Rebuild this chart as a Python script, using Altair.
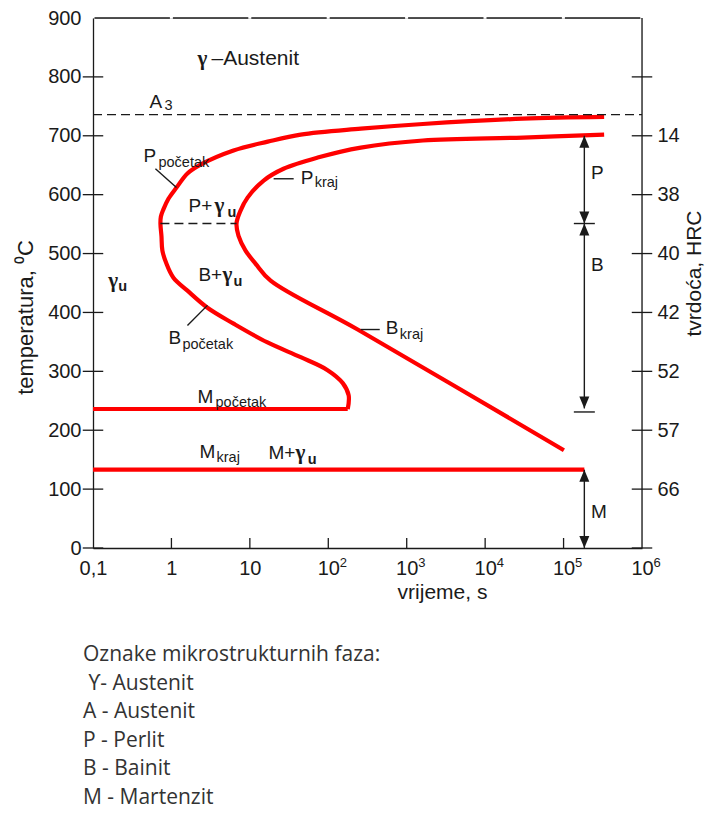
import altair as alt
import pandas as pd

# ---------------- data ----------------
# start curve (P_pocetak / B_pocetak), ordered from the right end round the nose
start_t = [3.29e5, 3.04e4, 1607, 260, 44.5, 16.9, 6.19, 2.35, 1.60, 1.16, 0.916, 0.79, 0.734, 0.724,
           0.746, 0.767, 0.863, 1.06, 1.60, 2.88, 6.2, 16.8, 44.5, 98, 153, 182, 177]
start_T = [732, 729, 720, 712, 702, 690, 675, 651, 636, 612, 593, 575, 563, 551,
           530, 505, 483, 459, 437, 408, 381, 349, 324, 302, 280, 259, 236]
# finish curve (P_kraj / B_kraj)
finish_t = [3.29e5, 3.04e4, 1607, 260, 73.3, 26.9, 15.0, 9.35, 7.61, 6.76, 7.17, 8.81, 11.8, 18.4, 237, 1.01e5]
finish_T = [702, 697, 692, 680, 663, 644, 624, 595, 573, 551, 530, 505, 483, 454, 371, 166]
# martensite start / finish lines
ms_t = [0.1, 177]
ms_T = [236, 236]
mf_t = [0.1, 1.84e5]
mf_T = [133, 133]

# dashed lines: A3 and the nose line
dash_t1 = [0.1, 0.724]
dash_t2 = [1e6, 6.76]
dash_T = [736, 551]

# arrows on the right (time position and temperature ends)
arrow_t = 1.84e5
shaft_T1 = [700, 551, 133]
shaft_T2 = [551, 237, 0]
head_up_T = [700, 551, 133]
head_down_T = [551, 237, 0]
bar_T = [551, 231]

# leader lines
lead_t1 = [0.625, 20.1, 1.6, 259]
lead_t2 = [1.16, 36.2, 2.88, 453]
lead_T1 = [644, 627, 378, 371]
lead_T2 = [612, 627, 412, 371]

# labels
big_text = ["\u2013Austenit"]
big_t = [3.24]
big_T = [830]

lbl_text = ["A", "P", "P", "P+", "B+", "B", "B", "M", "M", "M+", "P", "B", "M"]
lbl_t = [0.524, 0.439, 44.5, 1.65, 2.21, 0.916, 541, 2.15, 2.28, 17.3, 2.24e5, 2.24e5, 2.24e5]
lbl_T = [758, 666, 629, 580, 463, 356, 373, 256, 163, 161, 637, 480, 61]

greek_text = ["\u03b3", "\u03b3", "\u03b3", "\u03b3", "\u03b3"]
greek_t = [2.15, 3.54, 4.48, 0.157, 38.3]
greek_T = [830, 580, 463, 453, 161]

sub_text = ["3", "po\u010detak", "kraj", "po\u010detak", "kraj", "po\u010detak", "kraj"]
sub_t = [0.815, 0.683, 67.0, 1.38, 817, 3.65, 3.76]
sub_T = [751, 654, 619, 344, 361, 246, 153]

subb_text = ["u", "u", "u", "u"]
subb_t = [5.19, 6.2, 0.210, 54.6]
subb_T = [569, 451, 444, 149]

x_ticks = [0.1, 1, 10, 100, 1e3, 1e4, 1e5, 1e6]
x_tick_labels = ["0,1", "1", "10", "10", "10", "10", "10", "10"]
exp_t = [100, 1e3, 1e4, 1e5, 1e6]
exp_text = ["2", "3", "4", "5", "6"]
y_ticks = [0, 100, 200, 300, 400, 500, 600, 700, 800, 900]
hrc_T = [100, 200, 300, 400, 500, 600, 700]
hrc_labels = ["66", "57", "52", "42", "40", "38", "14"]
side_tick_T = [0, 100, 200, 300, 400, 500, 600, 700, 800]
bottom_tick_t = [1, 10, 100, 1e3, 1e4, 1e5]

legend_lines = ["Oznake mikrostrukturnih faza:", "\u200b\u00a0\u03d2- Austenit", "A - Austenit",
                "P - Perlit", "B - Bainit", "M - Martenzit"]

# ---------------- build ----------------
FONT = "Liberation Sans"
SERIF = "Liberation Serif"
INK = "#1a1a1a"
RED = "#ff0000"

xscale = alt.Scale(type="log", domain=[0.1, 1e6], nice=False)
yscale = alt.Scale(domain=[0, 900], nice=False, zero=False)

lab_arr = "[" + ",".join("'" + s + "'" for s in x_tick_labels) + "]"
xaxis = alt.Axis(values=x_ticks, labelExpr=lab_arr + "[round(log(datum.value)/LN10)+1]",
                 ticks=False, tickSize=0, grid=False, domain=True, domainColor=INK, domainWidth=1.3,
                 labelFont=FONT, labelFontSize=20, labelColor=INK, labelPadding=10,
                 labelFlush=False, labelOverlap=False,
                 title="vrijeme, s", titleFont=FONT, titleFontSize=21, titleFontWeight="normal",
                 titleColor=INK, titleX=349, titleY=44, titleAlign="center", titleBaseline="middle")
yaxis_left = alt.Axis(values=y_ticks, format="d", ticks=False, tickSize=0, grid=False, domain=True,
                      domainColor=INK, domainWidth=1.3, labelFont=FONT, labelFontSize=20, labelColor=INK,
                      labelPadding=12, labelFlush=False, labelOverlap=False,
                      title="temperatura, \u2070C", titleFont=FONT, titleFontSize=22,
                      titleFontWeight="normal", titleColor=INK, titleAngle=270, titleX=-68, titleY=299,
                      titleAlign="center", titleBaseline="middle")
hrc_arr = "['','" + "','".join(hrc_labels) + "']"
yaxis_right = alt.Axis(orient="right", values=hrc_T, labelExpr=hrc_arr + "[round(datum.value/100)]",
                       ticks=False, tickSize=0, grid=False, domain=False, labelFont=FONT, labelFontSize=20,
                       labelColor=INK, labelPadding=15, labelFlush=False, labelOverlap=False,
                       title="tvrdo\u0107a, HRC", titleFont=FONT, titleFontSize=21,
                       titleFontWeight="normal", titleColor=INK, titleAngle=270, titleX=52, titleY=255,
                       titleAlign="center", titleBaseline="middle")

X = alt.X("t:Q", scale=xscale, axis=xaxis)
X2 = alt.X2("t2:Q")
Ynone = alt.Y("T:Q", scale=yscale, axis=None)
Y2 = alt.Y2("T2:Q")

rows = []
for name, ts, Ts in [("start", start_t, start_T), ("finish", finish_t, finish_T),
                     ("ms", ms_t, ms_T), ("mf", mf_t, mf_T)]:
    for i, (a, b) in enumerate(zip(ts, Ts)):
        rows.append({"curve": name, "o": i, "t": a, "T": b})
curves_df = pd.DataFrame(rows)

curves = alt.Chart(curves_df).mark_line(color=RED, strokeWidth=4.2, interpolate="catmull-rom",
                                        strokeCap="butt", strokeJoin="round").encode(
    x=X, y=alt.Y("T:Q", scale=yscale, axis=yaxis_left), detail="curve:N", order="o:Q")

dash_df = pd.DataFrame({"t": dash_t1, "t2": dash_t2, "T": dash_T})
dashed = alt.Chart(dash_df).mark_rule(color=INK, strokeWidth=1.4, strokeDash=[9, 5]).encode(
    x=X, x2=X2, y=Ynone)

top_df = pd.DataFrame({"t": [0.1], "t2": [1e6], "T": [900]})
top_line = alt.Chart(top_df).mark_rule(color=INK, strokeWidth=1.3, strokeDash=[75.4, 3],
                                       strokeDashOffset=76.9).encode(x=X, x2=X2, y=Ynone)

right_df = pd.DataFrame({"t": [1e6], "T": [0], "T2": [900]})
right_line = alt.Chart(right_df).mark_rule(color=INK, strokeWidth=1.3).encode(
    x=X, y=alt.Y("T:Q", scale=yscale, axis=yaxis_right), y2=Y2)

lt_df = pd.DataFrame({"t": [0.1] * len(side_tick_T) + [1e6] * len(side_tick_T),
                      "T": side_tick_T + side_tick_T})
side_ticks = alt.Chart(lt_df).mark_point(shape="stroke", size=420, color=INK, strokeWidth=1.3,
                                         filled=False, opacity=1).encode(x=X, y=Ynone)
bt_df = pd.DataFrame({"t": bottom_tick_t, "T": [0] * len(bottom_tick_t)})
bottom_ticks = alt.Chart(bt_df).mark_point(shape="M0,0L0,-2", size=100, color=INK, strokeWidth=1.3,
                                           filled=False, opacity=1).encode(x=X, y=Ynone)

exp_df = pd.DataFrame({"t": exp_t, "T": [0] * len(exp_t), "s": exp_text})
exps = alt.Chart(exp_df).mark_text(align="left", baseline="top", font=FONT, fontSize=13, color=INK,
                                   dx=11.5, dy=9).encode(x=X, y=Ynone, text="s:N")

shaft_df = pd.DataFrame({"t": [arrow_t] * 3, "T": shaft_T1, "T2": shaft_T2})
shafts = alt.Chart(shaft_df).mark_rule(color=INK, strokeWidth=1.4).encode(x=X, y=Ynone, y2=Y2)
up_df = pd.DataFrame({"t": [arrow_t] * 3, "T": head_up_T})
heads_up = alt.Chart(up_df).mark_point(shape="M0,0L-1,2.4L1,2.4Z", size=100, color=INK,
                                       filled=True, opacity=1).encode(x=X, y=Ynone)
dn_df = pd.DataFrame({"t": [arrow_t] * 3, "T": head_down_T})
heads_dn = alt.Chart(dn_df).mark_point(shape="M0,0L-1,-2.4L1,-2.4Z", size=100, color=INK,
                                       filled=True, opacity=1).encode(x=X, y=Ynone)
bar_df = pd.DataFrame({"t": [arrow_t] * 2, "T": bar_T})
bars = alt.Chart(bar_df).mark_point(shape="stroke", size=441, color=INK, strokeWidth=1.4,
                                    filled=False, opacity=1).encode(x=X, y=Ynone)

lead_df = pd.DataFrame({"t": lead_t1, "t2": lead_t2, "T": lead_T1, "T2": lead_T2})
leaders = alt.Chart(lead_df).mark_rule(color=INK, strokeWidth=1.4).encode(x=X, x2=X2, y=Ynone, y2=Y2)

big = alt.Chart(pd.DataFrame({"t": big_t, "T": big_T, "s": big_text})).mark_text(
    align="left", baseline="middle", font=FONT, fontSize=21, color=INK).encode(x=X, y=Ynone, text="s:N")
lbl = alt.Chart(pd.DataFrame({"t": lbl_t, "T": lbl_T, "s": lbl_text})).mark_text(
    align="left", baseline="middle", font=FONT, fontSize=19, color=INK).encode(x=X, y=Ynone, text="s:N")
greek = alt.Chart(pd.DataFrame({"t": greek_t, "T": greek_T, "s": greek_text})).mark_text(
    align="left", baseline="middle", font=SERIF, fontSize=21, fontWeight="bold", color=INK).encode(
    x=X, y=Ynone, text="s:N")
subs = alt.Chart(pd.DataFrame({"t": sub_t, "T": sub_T, "s": sub_text})).mark_text(
    align="left", baseline="middle", font=FONT, fontSize=14.5, color=INK).encode(x=X, y=Ynone, text="s:N")
subsb = alt.Chart(pd.DataFrame({"t": subb_t, "T": subb_T, "s": subb_text})).mark_text(
    align="left", baseline="middle", font=FONT, fontSize=14.5, fontWeight="bold", color=INK).encode(
    x=X, y=Ynone, text="s:N")

chart = alt.layer(
    curves, dashed, top_line, right_line, side_ticks, bottom_ticks, exps, shafts, heads_up, heads_dn, bars,
    leaders, big, lbl, greek, subs, subsb
).resolve_scale(y="independent").properties(
    width=549, height=530,
    padding={"left": 85, "top": 10, "right": 65, "bottom": 260},
    autosize=alt.AutoSizeParams(type="none"),
    title=alt.TitleParams(text=legend_lines, orient="bottom", anchor="start", frame="group",
                          font="Open Sans", fontSize=21, fontWeight="normal", color="#333333",
                          lineHeight=28.6, offset=42, dx=-10, baseline="top"),
).configure_view(stroke=None).configure(background="white")

chart.save("out.html", embed_options={"renderer": "svg", "actions": False})
